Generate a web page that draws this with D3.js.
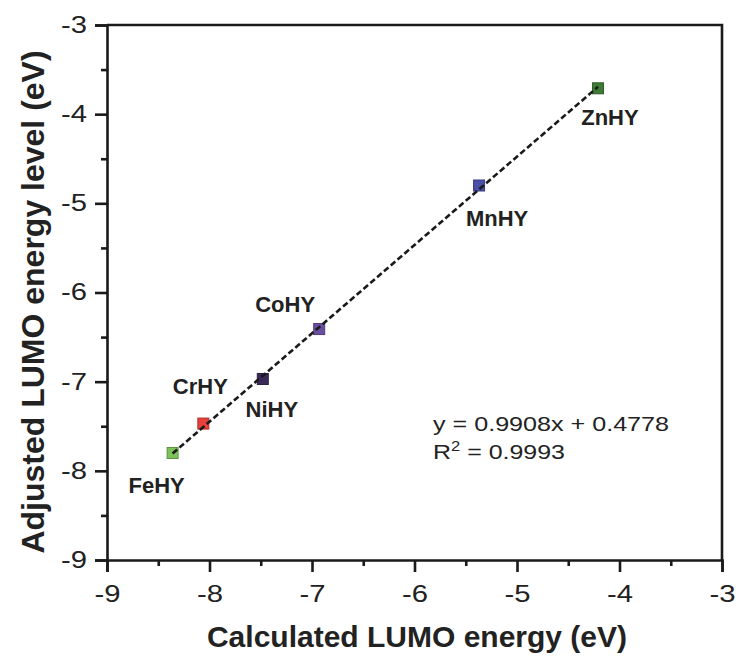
<!DOCTYPE html>
<html>
<head>
<meta charset="utf-8">
<script src="https://cdn.jsdelivr.net/npm/d3@7.9.0/dist/d3.min.js"></script>
<style>
  body { margin: 0; background: #fff; }
  svg { font-family: "Liberation Sans", Arial, sans-serif; }
</style>
</head>
<body>
<svg id="chart" width="739" height="659"></svg>
<script>
// data
const samples = ['FeHY', 'CrHY', 'NiHY', 'CoHY', 'MnHY', 'ZnHY'];
const calcLumo = [-8.36, -8.06, -7.48, -6.93, -5.37, -4.21];
const adjLumo = [-7.80, -7.47, -6.97, -6.41, -4.80, -3.71];
const colors = ['#7dc25a', '#e8403a', '#3a2a5a', '#6a4fa0', '#4a4fa8', '#3f7a36'];
const fitSlope = 0.9908, fitIntercept = 0.4778, rSquared = 0.9993;
const tickValues = [-9, -8, -7, -6, -5, -4, -3];
const minorTicks = [-8.5, -7.5, -6.5, -5.5, -4.5, -3.5];

// label placement relative to the marker (px)
const labelOffset = {
  FeHY: [-16, 40], CrHY: [-3, -30], NiHY: [9, 38],
  CoHY: [-34, -17], MnHY: [18, 40], ZnHY: [12, 37]
};

const margin = {top: 25, right: 17, bottom: 99, left: 107};
const width = 739, height = 659;
const svg = d3.select('#chart');
const ink = '#1a1a1a';

let x = d3.scaleLinear().domain([-9, -3]).range([margin.left, width - margin.right]);
let y = d3.scaleLinear().domain([-9, -3]).range([height - margin.bottom, margin.top]);
let fmt = d => String(d).replace('\u2212', '-');

// x axis
svg.append('g')
  .attr('transform', `translate(0,${height - margin.bottom})`)
  .call(d3.axisBottom(x).tickValues(tickValues).tickFormat(fmt).tickSize(12).tickPadding(14));
svg.append('g')
  .attr('transform', `translate(0,${height - margin.bottom})`)
  .call(d3.axisBottom(x).tickValues(minorTicks).tickFormat('').tickSize(6))
  .call(g => g.select('.domain').remove());

// y axis
svg.append('g')
  .attr('transform', `translate(${margin.left},0)`)
  .call(d3.axisLeft(y).tickValues(tickValues).tickFormat(fmt).tickSize(12).tickPadding(8));
svg.append('g')
  .attr('transform', `translate(${margin.left},0)`)
  .call(d3.axisLeft(y).tickValues(minorTicks).tickFormat('').tickSize(6))
  .call(g => g.select('.domain').remove());

svg.selectAll('.domain').attr('stroke', ink).attr('stroke-width', 2.6);
svg.selectAll('.tick line').attr('stroke', ink).attr('stroke-width', 2.6);
svg.selectAll('.tick text')
  .attr('font-size', 23).attr('fill', '#222')
  .attr('textLength', 26).attr('lengthAdjust', 'spacingAndGlyphs');

// top and right frame
svg.append('path')
  .attr('d', `M${x(-9)},${y(-3)}H${x(-3)}V${y(-9)}`)
  .attr('fill', 'none').attr('stroke', ink).attr('stroke-width', 2.6);

// axis titles
svg.append('text')
  .attr('x', 417).attr('y', 647)
  .attr('text-anchor', 'middle')
  .attr('font-size', 30).attr('font-weight', 'bold').attr('fill', '#222')
  .text('Calculated LUMO energy (eV)');
svg.append('text')
  .attr('transform', `translate(44,302) rotate(-90)`)
  .attr('text-anchor', 'middle')
  .attr('font-size', 32).attr('font-weight', 'bold').attr('fill', '#222')
  .text('Adjusted LUMO energy level (eV)');

// markers
const sz = 11;
samples.forEach((s, i) => {
  svg.append('rect')
    .attr('x', x(calcLumo[i]) - sz / 2).attr('y', y(adjLumo[i]) - sz / 2)
    .attr('width', sz).attr('height', sz)
    .attr('fill', colors[i])
    .attr('stroke', d3.color(colors[i]).darker(0.8)).attr('stroke-width', 1);
});

// fit line
let x0 = d3.min(calcLumo), x1 = d3.max(calcLumo);
svg.append('line')
  .attr('x1', x(x0)).attr('y1', y(fitSlope * x0 + fitIntercept))
  .attr('x2', x(x1)).attr('y2', y(fitSlope * x1 + fitIntercept))
  .attr('stroke', ink).attr('stroke-width', 2.6).attr('stroke-dasharray', '6,3');

// sample labels
samples.forEach((s, i) => {
  svg.append('text')
    .attr('x', x(calcLumo[i]) + labelOffset[s][0])
    .attr('y', y(adjLumo[i]) + labelOffset[s][1])
    .attr('text-anchor', 'middle')
    .attr('font-size', 22).attr('font-weight', 'bold').attr('fill', '#222')
    .text(s);
});

// equation
svg.append('text')
  .attr('x', 433).attr('y', 431)
  .attr('font-size', 21).attr('fill', '#222')
  .attr('textLength', 236).attr('lengthAdjust', 'spacingAndGlyphs')
  .text(`y = ${fitSlope.toFixed(4)}x + ${fitIntercept.toFixed(4)}`);
let r2 = svg.append('text').attr('x', 433).attr('y', 459)
  .attr('font-size', 21).attr('fill', '#222')
  .attr('textLength', 132).attr('lengthAdjust', 'spacingAndGlyphs');
r2.append('tspan').text('R');
r2.append('tspan').attr('font-size', 14).attr('dy', -8).text('2');
r2.append('tspan').attr('dy', 8).text(` = ${rSquared.toFixed(4)}`);
</script>
</body>
</html>
